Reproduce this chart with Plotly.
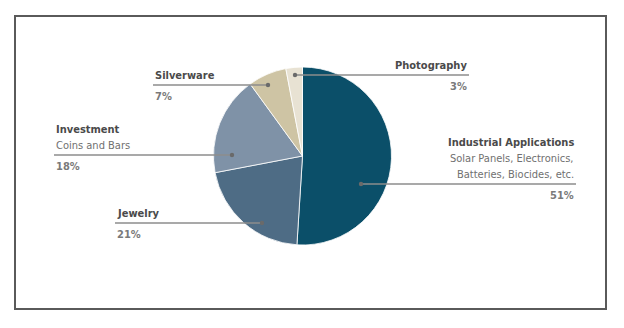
import plotly.graph_objects as go

# Silver demand by end use (share of total, %)
segments = ["Industrial Applications", "Jewelry", "Investment", "Silverware", "Photography"]
subtitles = [["Solar Panels, Electronics,", "Batteries, Biocides, etc."], [], ["Coins and Bars"], [], []]
shares = [51, 21, 18, 7, 3]
colors = ["#0b4f69", "#4e6c85", "#7f92a7", "#cec4a4", "#e8e2d3"]

W, H = 624, 328
CX, CY, R = 302.5, 156, 89

FONT = "DejaVu Sans Condensed, Liberation Sans Narrow, sans-serif"
DARK = "#4a4a4a"
MID = "#707070"
PCT = "#7a7a7a"
LINE = "#8c8c8c"
FS = 11
STEP = 16

fig = go.Figure()
fig.add_trace(go.Pie(
    labels=segments,
    values=shares,
    sort=False,
    direction="clockwise",
    rotation=0,
    marker=dict(colors=colors, line=dict(color="white", width=0.8)),
    textinfo="none",
    hoverinfo="label+percent",
    showlegend=False,
    domain=dict(x=[(CX - R) / W, (CX + R) / W], y=[1 - (CY + R) / H, 1 - (CY - R) / H]),
))

# label layout: (line y, line x0, line x1, dot x, text anchor side)
callouts = {
    "Industrial Applications": (184, 361, 576, 361, "right"),
    "Jewelry": (223, 115, 262, 262, "left"),
    "Investment": (155, 54, 232, 232, "left"),
    "Silverware": (85, 153, 268, 268, "left"),
    "Photography": (75, 295, 469, 295, "right"),
}

shapes = [dict(type="rect", xref="x", yref="y", x0=15, y0=16, x1=606, y1=309,
               line=dict(color="#5a5a5a", width=2), layer="above")]
annotations = []


def add_text(x, y, text, side, color):
    annotations.append(dict(x=x, y=y, xref="x", yref="y", text=text, showarrow=False,
                            xanchor=side, yanchor="middle", align=side,
                            font=dict(family=FONT, size=FS, color=color)))


for name, sub, val in zip(segments, subtitles, shares):
    ly, x0, x1, dx, side = callouts[name]
    shapes.append(dict(type="line", xref="x", yref="y", x0=x0, x1=x1, y0=ly, y1=ly,
                       line=dict(color=LINE, width=1.5), layer="above"))
    shapes.append(dict(type="circle", xref="x", yref="y", x0=dx - 2.2, x1=dx + 2.2,
                       y0=ly - 2.2, y1=ly + 2.2, fillcolor="#6a6a6a",
                       line=dict(width=0), layer="above"))
    tx = x1 if side == "right" else x0
    # text lines stacked upward from the leader line
    lines = [(f"<b>{name}</b>", DARK)] + [(s, MID) for s in sub]
    n = len(lines)
    for i, (txt, col) in enumerate(lines):
        add_text(tx, ly - 10 - STEP * (n - 1 - i), txt, side, col)
    add_text(tx, ly + 11, f"<b>{val}%</b>", side, PCT)

fig.update_layout(
    width=W, height=H,
    margin=dict(l=0, r=0, t=0, b=0),
    paper_bgcolor="white", plot_bgcolor="rgba(0,0,0,0)",
    xaxis=dict(range=[0, W], visible=False, fixedrange=True),
    yaxis=dict(range=[H, 0], visible=False, fixedrange=True),
    shapes=shapes,
    annotations=annotations,
)

fig.write_html("out.html")
